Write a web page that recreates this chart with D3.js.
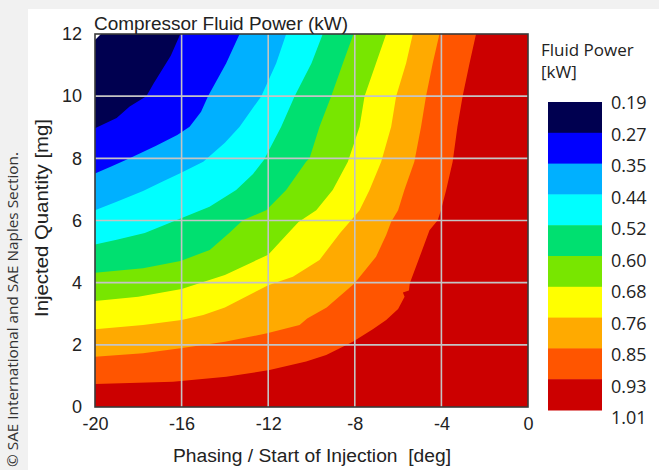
<!DOCTYPE html>
<html>
<head>
<meta charset="utf-8">
<script src="https://cdn.jsdelivr.net/npm/d3@7"></script>
<style>
  html, body { margin: 0; padding: 0; background: #f1f1f1; }
  svg { display: block; }
</style>
</head>
<body>
<svg id="chart" width="659" height="470"></svg>
<script>
// Axis ticks
const xTickVals = [-20, -16, -12, -8, -4, 0];
const yTickVals = [0, 2, 4, 6, 8, 10, 12];

// Contour levels of the fluid power map (kW) and the band colours between them
const levels = [0.19, 0.27, 0.35, 0.44, 0.52, 0.60, 0.68, 0.76, 0.85, 0.93, 1.01];
const bandColors = ["#000050", "#0000ff", "#00b0ff", "#00ffff", "#00e070",
                    "#78e600", "#ffff00", "#ffaa00", "#ff5500", "#cc0000"];

// Iso-power lines [start of injection (deg), injected quantity (mg)],
// each running from the left edge of the map to its top edge.
const iso027 = [[-20, 8.97], [-19, 9.3], [-18.4, 9.67], [-17.63, 10.0], [-17.3, 10.4],
                [-16.9, 10.85], [-16.5, 11.3], [-16.06, 12]];
const iso035 = [[-20, 7.51], [-19.2, 7.75], [-18.4, 8.0], [-17.2, 8.4], [-16.2, 8.75],
                [-15.63, 9.02], [-15.1, 9.5], [-14.78, 10.0], [-13.94, 11.06], [-13.32, 12]];
const iso044 = [[-20, 6.33], [-19, 6.6], [-17.78, 6.95], [-16.9, 7.25], [-16.09, 7.51],
                [-15.0, 7.89], [-14.0, 8.5], [-13.32, 9.02], [-12.32, 10.0], [-11.63, 11.06], [-11.17, 12]];
const iso052 = [[-20, 5.23], [-19, 5.38], [-17.7, 5.6], [-16.25, 6.01], [-14.71, 6.44],
                [-13.48, 6.98], [-12.7, 7.5], [-12.2, 7.95], [-11.4, 9.02], [-10.78, 10.0],
                [-10.0, 11.06], [-9.48, 12]];
const iso060 = [[-20, 4.32], [-17.78, 4.46], [-16.05, 4.7], [-14.7, 5.05], [-13.8, 5.6],
                [-13.17, 6.01], [-12.09, 6.33], [-11.17, 6.98], [-10.25, 7.89], [-10.09, 8.0],
                [-9.63, 9.02], [-9.09, 10.0], [-8.55, 11.06], [-8.06, 12]];
const iso068 = [[-20, 3.41], [-18, 3.55], [-16, 3.8], [-14, 4.25], [-12, 4.9], [-11.2, 5.5],
                [-10.6, 5.95], [-9.78, 6.33], [-9.02, 6.98], [-8.32, 7.89], [-7.78, 9.02],
                [-7.55, 10.0], [-7.02, 11.06], [-6.55, 12]];
const iso076 = [[-20, 2.5], [-17.78, 2.64], [-16, 2.8], [-15, 2.96], [-14, 3.2], [-12, 3.92],
                [-10.86, 4.19], [-9.63, 4.73], [-8.68, 5.6], [-8.17, 6.01], [-7.78, 6.33],
                [-7.32, 6.98], [-6.78, 7.89], [-6.32, 9.02], [-6.09, 10.0], [-5.63, 11.06], [-5.32, 12]];
const iso085 = [[-20, 1.62], [-17.78, 1.73], [-16.05, 1.89], [-14, 2.1], [-12.05, 2.37],
                [-10.55, 2.64], [-10.2, 2.85], [-9.3, 3.2], [-8.02, 3.97], [-7.02, 4.83],
                [-6.55, 5.53], [-6.32, 5.96], [-6.0, 6.33], [-5.71, 6.98], [-5.25, 7.89],
                [-4.94, 9.02], [-4.71, 10.0], [-4.4, 11.06], [-4.09, 12]];
const iso093 = [[-20, 0.74], [-16.4, 0.81], [-13.94, 0.97], [-11.94, 1.19], [-10.25, 1.46],
                [-9.32, 1.67], [-8.09, 2.1], [-7.17, 2.5], [-6.55, 2.8], [-6.0, 3.15],
                [-5.7, 3.55], [-5.78, 3.68], [-5.5, 3.75], [-5.46, 3.98], [-5.02, 4.8],
                [-4.55, 5.69], [-4.17, 6.01], [-4.02, 6.33], [-3.78, 6.98], [-3.48, 7.89],
                [-3.26, 9.02], [-3.02, 10.0], [-2.7, 11.06], [-2.4, 12]];
const isolines = [iso027, iso035, iso044, iso052, iso060, iso068, iso076, iso085, iso093];

const svg = d3.select("#chart");
const W = 659, H = 470;

// white page area
svg.append("rect").attr("x", 28).attr("y", 9).attr("width", W - 28).attr("height", H - 9)
  .attr("fill", "#ffffff");

const x = d3.scaleLinear().domain([-20, 0]).range([95, 528]);
const y = d3.scaleLinear().domain([0, 12]).range([407, 34]);

const plot = svg.append("g");
svg.append("clipPath").attr("id", "plotClip")
  .append("rect").attr("x", x(-20)).attr("y", y(12))
  .attr("width", x(0) - x(-20)).attr("height", y(0) - y(12));

const bands = plot.append("g").attr("clip-path", "url(#plotClip)");

// highest band fills the whole map, lower bands are painted over it
bands.append("rect")
  .attr("x", x(-20)).attr("y", y(12))
  .attr("width", x(0) - x(-20)).attr("height", y(0) - y(12))
  .attr("fill", bandColors[bandColors.length - 1]);

const line = d3.line().x(d => x(d[0])).y(d => y(d[1]));
for (let i = isolines.length - 1; i >= 0; i--) {
  const region = [[-20, 12]].concat(isolines[i]);
  bands.append("path")
    .attr("d", line(region) + "Z")
    .attr("fill", bandColors[i]);
}

// small white corner marker at the top-left of the map
bands.append("path")
  .attr("d", `M${x(-20)},${y(12)} L${x(-20) + 6},${y(12)} L${x(-20)},${y(12) + 6} Z`)
  .attr("fill", "#ffffff");

// grid
const grid = plot.append("g").attr("stroke", "#c4c4c4").attr("stroke-width", 1.6);
grid.selectAll("line.gx").data(xTickVals.slice(1, -1)).join("line")
  .attr("x1", d => x(d)).attr("x2", d => x(d))
  .attr("y1", y(0)).attr("y2", y(12));
grid.selectAll("line.gy").data(yTickVals.slice(1, -1)).join("line")
  .attr("y1", d => y(d)).attr("y2", d => y(d))
  .attr("x1", x(-20)).attr("x2", x(0));

// frame
plot.append("rect")
  .attr("x", x(-20)).attr("y", y(12))
  .attr("width", x(0) - x(-20)).attr("height", y(0) - y(12))
  .attr("fill", "none").attr("stroke", "#3a3a3a").attr("stroke-width", 1.6);

const tickFont = "'Liberation Sans', Arial, sans-serif";

// axes
const yAxis = svg.append("g").attr("transform", `translate(${x(-20)},0)`)
  .call(d3.axisLeft(y).tickValues(yTickVals).tickSize(0).tickPadding(13)
        .tickFormat(d => String(d)));
yAxis.select(".domain").remove();
yAxis.selectAll("text").attr("font-family", tickFont).attr("font-size", 18)
  .attr("fill", "#222");

const xAxis = svg.append("g").attr("transform", `translate(0,${y(0)})`)
  .call(d3.axisBottom(x).tickValues(xTickVals).tickSize(0).tickPadding(10)
        .tickFormat(d => String(d)));
xAxis.select(".domain").remove();
xAxis.selectAll("text").attr("font-family", tickFont).attr("font-size", 18)
  .attr("fill", "#222");

// title and axis labels
svg.append("text").attr("x", 94).attr("y", 30)
  .attr("font-family", tickFont).attr("font-size", 17.5).attr("fill", "#222")
  .attr("textLength", 254).attr("lengthAdjust", "spacingAndGlyphs")
  .text("Compressor Fluid Power (kW)");

svg.append("text").attr("x", 173).attr("y", 462)
  .attr("font-family", tickFont).attr("font-size", 18).attr("fill", "#222")
  .attr("textLength", 278).attr("lengthAdjust", "spacingAndGlyphs")
  .attr("xml:space", "preserve")
  .text("Phasing / Start of Injection  [deg]");

svg.append("text")
  .attr("transform", "translate(48,317) rotate(-90)")
  .attr("font-family", tickFont).attr("font-size", 17.5).attr("fill", "#222")
  .attr("textLength", 198).attr("lengthAdjust", "spacingAndGlyphs")
  .text("Injected Quantity [mg]");

// copyright note
svg.append("text")
  .attr("transform", "translate(18,467) rotate(-90)")
  .attr("font-family", "'Open Sans', 'Noto Sans', sans-serif").attr("font-size", 14.5)
  .attr("fill", "#333")
  .attr("textLength", 315).attr("lengthAdjust", "spacingAndGlyphs")
  .text("© SAE International and SAE Naples Section.");

// colour legend
const legendFont = "'Open Sans', 'Noto Sans', sans-serif";
svg.append("text").attr("x", 541).attr("y", 56)
  .attr("font-family", legendFont).attr("font-size", 17).attr("fill", "#222")
  .text("Fluid Power");
svg.append("text").attr("x", 541).attr("y", 78)
  .attr("font-family", legendFont).attr("font-size", 17).attr("fill", "#222")
  .text("[kW]");

const ly = d3.scaleLinear().domain([0, bandColors.length]).range([102, 410]);
const legend = svg.append("g");
legend.selectAll("rect").data(bandColors).join("rect")
  .attr("x", 548).attr("width", 54)
  .attr("y", (d, i) => ly(i)).attr("height", (d, i) => ly(i + 1) - ly(i) + 0.5)
  .attr("fill", d => d);

const ll = d3.scaleLinear().domain([0, levels.length - 1]).range([103, 418]);
legend.selectAll("text").data(levels).join("text")
  .attr("x", 611).attr("y", (d, i) => ll(i))
  .attr("dy", "0.35em")
  .attr("font-family", legendFont).attr("font-size", 18).attr("fill", "#222")
  .text(d => d3.format(".2f")(d));
</script>
</body>
</html>
